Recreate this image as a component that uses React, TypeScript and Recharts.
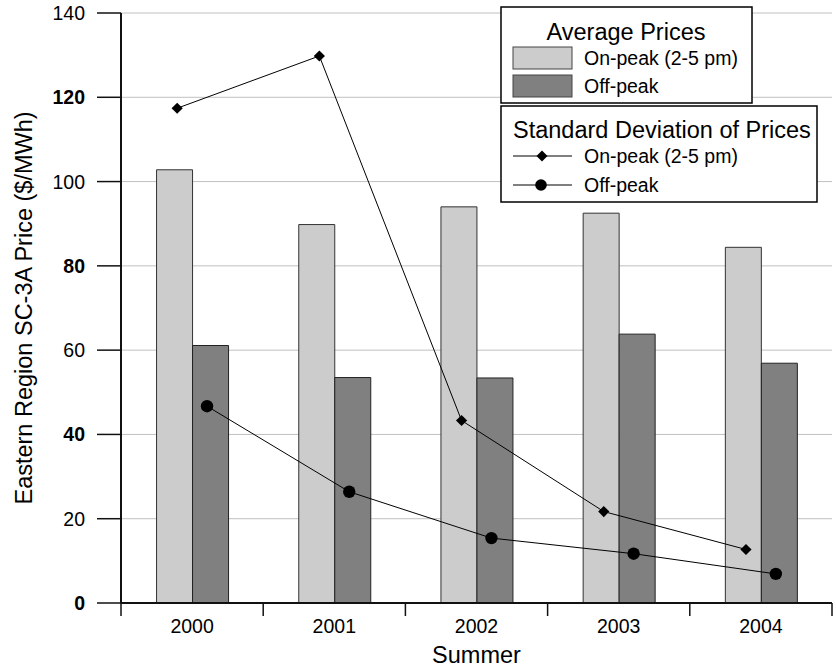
import React from "react";
import {
  ComposedChart,
  Bar,
  Line,
  XAxis,
  YAxis,
  CartesianGrid,
  Legend,
  Label,
} from "recharts";

const years = ["2000", "2001", "2002", "2003", "2004"];
const avgOnPeak = [102.8, 89.8, 94.0, 92.5, 84.4];
const avgOffPeak = [61.1, 53.5, 53.4, 63.8, 56.9];
const sdOnPeak = [117.4, 129.8, 43.3, 21.7, 12.7];
const sdOffPeak = [46.7, 26.4, 15.4, 11.7, 6.9];
const yTicks = [0, 20, 40, 60, 80, 100, 120, 140];

const ON_LABEL = "On-peak (2-5 pm)";
const OFF_LABEL = "Off-peak";
const ON_FILL = "#cccccc";
const OFF_FILL = "#808080";
const FONT = '"Liberation Sans", Arial, sans-serif';

// lines sit over the left/right bar of each pair, not the category centre
const LINE_SHIFT = 0.105;
const X_TICK_MARGIN = 16.5;
const X_TICK_LEN = 13;

const data = years.map((year, i) => ({
  year,
  idx: i,
  avgOn: avgOnPeak[i],
  avgOff: avgOffPeak[i],
  sdOn: sdOnPeak[i],
  sdOff: sdOffPeak[i],
}));

const lo = -0.5;
const hi = years.length - 0.5;

const diamondPts = (cx: number, cy: number, s: number) =>
  `${cx},${cy - s} ${cx + s},${cy} ${cx},${cy + s} ${cx - s},${cy}`;

const Diamond = (props: any) => {
  const { cx, cy } = props;
  if (cx == null || cy == null) return null;
  return <polygon points={diamondPts(cx, cy, 5.6)} fill="#000" />;
};

const Dot = (props: any) => {
  const { cx, cy } = props;
  if (cx == null || cy == null) return null;
  return <circle cx={cx} cy={cy} r={6.2} fill="#000" />;
};

// category label, plus tick marks on the category boundaries (Excel style)
const XTick = (props: any) => {
  const { x, y, width, visibleTicksCount, index, payload } = props;
  const half = width / visibleTicksCount / 2;
  const y0 = y - X_TICK_MARGIN;
  const last = index === visibleTicksCount - 1;
  return (
    <g>
      <line x1={x - half} x2={x - half} y1={y0} y2={y0 + X_TICK_LEN} stroke="#111" strokeWidth={1.5} />
      {last && (
        <line x1={x + half} x2={x + half} y1={y0} y2={y0 + X_TICK_LEN} stroke="#111" strokeWidth={1.5} />
      )}
      <text x={x} y={y} dy="0.71em" textAnchor="middle" fontSize={19.5} fontFamily={FONT} fill="#000">
        {payload.value}
      </text>
    </g>
  );
};

const YTick = (props: any) => {
  const { x, y, payload } = props;
  // the source renders every other label heavier
  const bold = payload.value % 40 === 0;
  return (
    <text
      x={x}
      y={y}
      dy="0.36em"
      textAnchor="end"
      fontSize={19.5}
      fontFamily={FONT}
      fontWeight={bold ? "bold" : "normal"}
      fill="#000"
    >
      {payload.value}
    </text>
  );
};

const YTitle = (props: any) => {
  const { viewBox } = props;
  const x = viewBox.x + 32;
  const y = viewBox.y + viewBox.height / 2;
  return (
    <text
      x={x}
      y={y}
      transform={`rotate(-90 ${x} ${y})`}
      textAnchor="middle"
      fontSize={23.5}
      fontFamily={FONT}
      fill="#000"
    >
      Eastern Region SC-3A Price ($/MWh)
    </text>
  );
};

const LegendBoxes = () => (
  <svg width={320} height={200} style={{ display: "block", fontFamily: FONT }}>
    <rect x={1} y={1} width={251} height={96} fill="#fff" stroke="#000" strokeWidth={1.5} />
    <text x={126} y={34} textAnchor="middle" fontSize={23.5}>
      Average Prices
    </text>
    <rect x={13} y={41} width={59} height={22} fill={ON_FILL} stroke="#444" />
    <text x={84} y={59} fontSize={19.5}>
      {ON_LABEL}
    </text>
    <rect x={13} y={69} width={59} height={22} fill={OFF_FILL} stroke="#444" />
    <text x={84} y={87} fontSize={19.5}>
      {OFF_LABEL}
    </text>

    <rect x={1} y={100} width={316} height={96} fill="#fff" stroke="#000" strokeWidth={1.5} />
    <text x={13} y={132} fontSize={23.5}>
      Standard Deviation of Prices
    </text>
    <line x1={13} x2={72} y1={150} y2={150} stroke="#000" />
    <polygon points={diamondPts(42, 150, 5.5)} fill="#000" />
    <text x={84} y={157} fontSize={19.5}>
      {ON_LABEL}
    </text>
    <line x1={13} x2={72} y1={179} y2={179} stroke="#000" />
    <circle cx={41} cy={179} r={5.8} fill="#000" />
    <text x={84} y={186} fontSize={19.5}>
      {OFF_LABEL}
    </text>
  </svg>
);

export default function App() {
  return (
    <div style={{ width: 836, height: 669, fontFamily: FONT, background: "#fff" }}>
      <style>{`body{margin:0}`}</style>
      <ComposedChart
        width={836}
        height={669}
        data={data}
        margin={{ top: 13, right: 4, bottom: 26, left: 0 }}
        barGap={0}
        barCategoryGap="25%"
      >
        <CartesianGrid xAxisId="cat" vertical={false} stroke="#c0c0c0" />
        <XAxis
          xAxisId="cat"
          dataKey="year"
          height={40}
          interval={0}
          tickLine={false}
          tickSize={0}
          tickMargin={X_TICK_MARGIN}
          tick={<XTick />}
          axisLine={{ stroke: "#111", strokeWidth: 2 }}
        >
          <Label
            value="Summer"
            position="bottom"
            offset={3}
            style={{ fontSize: 23.5, fill: "#000", fontFamily: FONT }}
          />
        </XAxis>
        <XAxis xAxisId="on" type="number" dataKey="idx" domain={[lo + LINE_SHIFT, hi + LINE_SHIFT]} hide />
        <XAxis xAxisId="off" type="number" dataKey="idx" domain={[lo - LINE_SHIFT, hi - LINE_SHIFT]} hide />
        <YAxis
          domain={[0, 140]}
          ticks={yTicks}
          interval={0}
          width={121}
          tickSize={24}
          tickMargin={12}
          tick={<YTick />}
          tickLine={{ stroke: "#111", strokeWidth: 1.5 }}
          axisLine={{ stroke: "#111", strokeWidth: 2 }}
        >
          <Label content={<YTitle />} />
        </YAxis>
        <Legend
          layout="vertical"
          align="center"
          verticalAlign="middle"
          wrapperStyle={{ left: 500, top: 6, width: 320, height: 200 }}
          content={() => <LegendBoxes />}
        />
        <Bar xAxisId="cat" dataKey="avgOn" name={ON_LABEL} fill={ON_FILL} stroke="#333" strokeWidth={1} isAnimationActive={false} />
        <Bar xAxisId="cat" dataKey="avgOff" name={OFF_LABEL} fill={OFF_FILL} stroke="#222" strokeWidth={1} isAnimationActive={false} />
        <Line
          xAxisId="on"
          type="linear"
          dataKey="sdOn"
          name={ON_LABEL}
          stroke="#000"
          strokeWidth={1}
          dot={<Diamond />}
          activeDot={false}
          isAnimationActive={false}
        />
        <Line
          xAxisId="off"
          type="linear"
          dataKey="sdOff"
          name={OFF_LABEL}
          stroke="#000"
          strokeWidth={1}
          dot={<Dot />}
          activeDot={false}
          isAnimationActive={false}
        />
      </ComposedChart>
    </div>
  );
}
